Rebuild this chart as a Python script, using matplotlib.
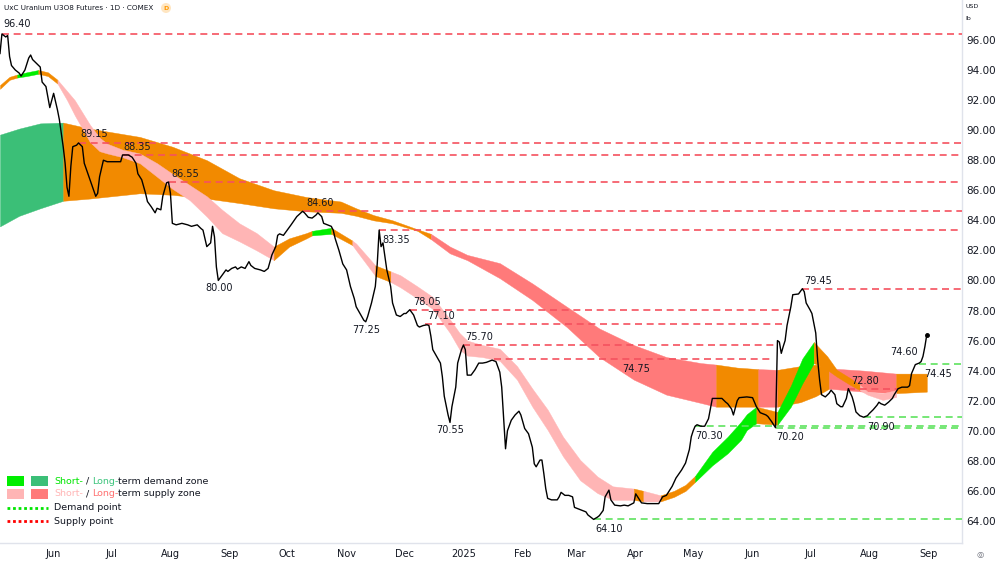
"""UxC Uranium U3O8 futures, daily, with demand / supply zones."""

import numpy as np
import matplotlib

matplotlib.use("Agg")
import matplotlib.pyplot as plt
import matplotlib.dates as mdates
from matplotlib.patches import Rectangle, Circle
from matplotlib.ticker import FuncFormatter

W, H = 1000, 562
T0 = np.datetime64("2024-05-04")   # day 0 of every *_day list below
X_END = 502.4                      # right edge of the plot, in days

# close path (day offset, price)
price_day = [
  0, 1, 3, 4, 5, 6, 8, 10, 11, 13, 15, 16, 17, 19, 21, 22, 24, 26, 28, 29,
  30, 31, 32, 33, 34, 35, 36, 37, 38, 40, 41, 43, 44, 47, 50, 51, 52, 54, 56, 57,
  63, 64, 67, 69, 71, 72, 74, 76, 77, 79, 81, 82, 84, 85, 87, 88, 89, 90, 92, 95,
  98, 100, 103, 105, 106, 108, 110, 111, 112, 113, 114, 116, 118, 119, 121, 123, 124, 126, 128, 130,
  131, 133, 136, 138, 140, 142, 144, 145, 146, 148, 150, 152, 155, 158, 159, 161, 163, 165, 166, 168,
  169, 171, 173, 174, 175, 177, 179, 181, 183, 185, 186, 188, 190, 191, 192, 194, 196, 197, 198, 199,
  200, 202, 204, 205, 207, 209, 211, 212, 214, 216, 218, 219, 221, 223, 224, 225, 226, 228, 230, 231,
  232, 234, 235, 236, 238, 239, 241, 242, 243, 244, 246, 248, 250, 252, 254, 257, 259, 260, 261, 262,
  263, 264, 265, 267, 269, 271, 272, 274, 276, 278, 279, 280, 282, 283, 284, 285, 286, 288, 291, 292,
  293, 295, 297, 299, 300, 302, 304, 306, 307, 310, 312, 313, 315, 316, 318, 319, 321, 324, 326, 328,
  331, 332, 333, 335, 338, 341, 344, 346, 348, 351, 353, 356, 358, 360, 361, 362, 363, 364, 366, 368,
  370, 372, 374, 377, 379, 380, 382, 383, 385, 386, 390, 393, 395, 397, 400, 401, 403, 405, 406, 407,
  408, 409, 410, 411, 413, 414, 417, 419, 420, 421, 423, 424, 426, 427, 428, 429, 431, 433, 434, 436,
  437, 439, 440, 442, 443, 445, 446, 447, 449, 451, 453, 454, 456, 458, 459, 460, 462, 464, 466, 467,
  469, 471, 474, 475, 476, 478, 480, 481, 482, 483, 484,
]
price_val = [
  95.1, 96.4, 96.2, 96.3, 94.9, 94.3, 94.0, 93.8, 93.6, 94.0, 94.8, 95.0, 94.7, 94.45, 94.2, 93.2, 92.9, 91.5, 92.45, 91.9,
  91.35, 90.7, 89.8, 88.9, 87.8, 86.2, 85.6, 87.6, 88.9, 89.0, 89.15, 88.9, 87.8, 86.7, 85.6, 85.8, 86.9, 88.0, 87.9, 87.9,
  87.9, 88.35, 88.35, 88.2, 87.8, 87.1, 86.7, 85.8, 85.25, 84.9, 84.5, 84.8, 84.7, 85.6, 86.5, 86.55, 85.8, 83.8, 83.7, 83.8,
  83.7, 83.6, 83.7, 83.45, 83.35, 82.25, 82.5, 83.6, 82.9, 80.9, 80.0, 80.35, 80.7, 80.6, 80.8, 80.9, 80.75, 80.9, 80.8, 81.25,
  81.0, 80.8, 80.7, 80.6, 80.8, 81.7, 82.25, 83.0, 83.1, 83.0, 83.35, 83.7, 84.25, 84.6, 84.5, 84.2, 84.15, 84.35, 84.5, 84.25,
  83.8, 83.7, 83.6, 83.35, 82.8, 82.0, 81.1, 80.7, 79.6, 78.8, 78.25, 77.8, 77.35, 77.25, 77.6, 78.5, 79.6, 81.1, 83.35, 82.25,
  82.5, 80.7, 79.6, 78.5, 77.7, 77.6, 77.8, 77.8, 78.05, 77.7, 77.0, 76.9, 77.0, 77.05, 77.0, 76.3, 75.4, 74.95, 74.5, 73.6,
  72.3, 71.05, 70.55, 71.6, 72.9, 74.5, 75.4, 75.7, 75.4, 73.7, 73.7, 74.05, 74.5, 74.5, 74.55, 74.7, 74.6, 74.25, 73.9, 72.9,
  70.9, 68.8, 70.0, 70.7, 71.05, 71.3, 71.05, 70.15, 69.8, 68.9, 67.8, 67.6, 68.05, 68.05, 67.15, 66.15, 65.5, 65.4, 65.4, 65.6,
  65.9, 65.7, 65.7, 65.6, 64.9, 64.8, 64.7, 64.6, 64.4, 64.1, 64.25, 64.35, 64.7, 65.6, 66.05, 65.4, 65.05, 65.0, 65.05, 65.0,
  65.2, 65.8, 65.6, 65.2, 65.15, 65.15, 65.15, 65.6, 65.7, 66.3, 66.85, 67.4, 67.85, 68.75, 69.6, 70.0, 70.3, 70.4, 70.3, 70.3,
  70.8, 72.15, 72.15, 72.15, 71.9, 71.8, 71.45, 71.05, 72.0, 72.2, 72.25, 72.2, 71.6, 71.2, 71.05, 70.95, 70.6, 70.2, 76.0, 75.9,
  75.15, 75.6, 76.0, 77.0, 78.25, 79.05, 79.1, 79.45, 79.25, 78.5, 78.05, 77.8, 76.5, 74.7, 73.4, 72.4, 72.25, 72.5, 72.7, 72.4,
  71.8, 71.6, 71.6, 72.15, 72.8, 72.25, 71.8, 71.25, 71.0, 70.9, 71.0, 71.15, 71.4, 71.7, 71.9, 71.8, 71.7, 71.9, 72.15, 72.4,
  72.8, 72.9, 72.9, 73.0, 73.8, 74.4, 74.5, 74.6, 74.95, 75.6, 76.4,
]

# long-term zone: edges and zone type of the stretch starting at each vertex
# G = demand, R = supply, O = neutral
long_day = [0, 10, 21, 33, 47, 73, 90, 108, 125, 143, 160, 178, 186, 195, 205, 218, 225, 235,
            244, 261, 278, 296, 313, 331, 348, 366, 374, 385, 396, 406, 418, 426, 433, 451, 468, 484]
long_top = [89.7, 90.1, 90.45, 90.5, 90.1, 89.55, 88.9, 88.0, 86.8, 86.0, 85.55, 85.25, 84.8, 84.35, 84.0, 83.4, 83.1, 82.25,
            81.7, 81.15, 79.8, 78.25, 76.8, 75.7, 74.9, 74.5, 74.4, 74.2, 74.1, 74.05, 74.3, 74.4, 74.15, 74.0, 73.8, 73.8]
long_bot = [83.6, 84.3, 84.8, 85.3, 85.45, 85.8, 85.7, 85.45, 85.15, 84.8, 84.6, 84.5, 84.3, 84.0, 83.8, 83.3, 82.75, 81.8,
            81.35, 80.15, 78.7, 76.9, 74.9, 73.4, 72.4, 71.85, 71.6, 71.6, 71.6, 71.6, 71.9, 72.3, 72.8, 72.6, 72.5, 72.6]
long_zone = "GGG" + "O" * 13 + "R" * 10 + "OO" + "R" + "OOO" + "RR" + "OO"

# short-term zone (g = demand, r = supply, o = neutral)
short_day = [0, 5, 9, 14, 20, 25, 30, 35, 39, 47, 52, 56, 64, 73, 82, 90, 99, 108, 116, 125,
             134, 143, 151, 160, 163, 173, 184, 186, 196, 204, 209, 218, 226, 235, 240, 244, 252, 261, 270, 278,
             286, 294, 303, 312, 320, 331, 336, 345, 352, 358, 363, 372, 380, 387, 390, 395, 406, 413, 419, 425,
             432, 437, 444, 449, 453, 461, 468]
short_top = [93.0, 93.55, 93.7, 93.85, 94.0, 93.85, 93.35, 92.6, 92.0, 90.35, 89.5, 89.1, 88.7, 88.45, 87.8, 87.1, 86.35, 85.6, 84.7, 83.8,
             83.15, 82.25, 82.8, 83.15, 83.3, 83.5, 82.65, 82.45, 81.0, 80.6, 80.35, 79.6, 78.9, 77.4, 76.5, 76.0, 75.7, 75.45, 74.3, 72.8,
             71.4, 69.6, 68.05, 66.95, 66.3, 66.15, 66.0, 65.7, 66.0, 66.4, 67.0, 68.6, 69.6, 70.6, 71.1, 71.6, 71.25, 73.0, 74.8, 75.9,
             74.95, 74.05, 73.5, 73.05, 72.6, 72.5, 72.7]
short_bot = [92.75, 93.35, 93.5, 93.6, 93.75, 93.6, 93.1, 92.0, 91.0, 89.2, 88.6, 88.45, 88.2, 87.8, 86.9, 86.1, 85.35, 84.25, 83.15, 82.6,
             82.0, 81.35, 82.25, 82.8, 83.0, 83.1, 82.35, 82.0, 80.3, 79.9, 79.55, 78.8, 78.1, 76.5, 75.4, 75.0, 74.9, 74.65, 73.4, 71.6,
             70.05, 68.3, 66.7, 65.85, 65.4, 65.4, 65.3, 65.3, 65.6, 66.0, 66.6, 67.7, 68.5, 69.4, 70.05, 70.5, 70.4, 71.6, 73.15, 74.5,
             74.05, 73.6, 73.05, 72.7, 72.4, 72.05, 72.25]
short_zone = ("oo" + "gg" + "oo" + "r" * 15 + "ooo" + "g" + "o" + "rr" + "o" + "r" * 16
              + "o" + "r" + "ooo" + "ggggg" + "o" + "ggg" + "oooo" + "rrrr")

# supply points: level, first day, last day (None = still open)
supply_level = [96.40, 89.15, 88.35, 86.55, 84.60, 83.35, 78.05, 77.10, 75.70, 74.75, 79.45, 72.80]
supply_from = [1, 41, 64, 88, 158, 198, 214, 222, 242, 258, 419, 443]
supply_to = [None, None, None, None, None, None, 413, 410, 406, 404, None, 469]

# demand points
demand_level = [74.45, 70.90, 70.30, 70.20, 64.10]
demand_from = [480, 451, 363, 405, 310]

# swing labels: text, day, offset in pixels
label_text = ["96.40", "89.15", "88.35", "86.55", "84.60", "83.35", "80.00", "77.25", "78.05", "77.10", "75.70",
              "70.55", "74.75", "64.10", "70.30", "70.20", "79.45", "72.80", "70.90", "74.60", "74.45"]
label_day = [1, 41, 65, 88, 158, 198, 114, 191, 214, 223, 242, 235, 257, 310, 363, 405, 419, 443, 451, 481, 480]
label_off = [(15, 10), (16, 9), (13, 8), (17, 8), (18, 8), (17, -10), (1, -8), (0, -8), (17, 8), (14, 8), (16, 8),
             (0, -8), (144, -10), (16, -10), (14, -10), (15, -9), (16, 8), (17, 8), (17, -10), (-17, 10), (19, -10)]

ZONE_COLORS = {
  "G": "#3bbf77", "R": "#ff7a7a", "O": "#f28a00",
  "g": "#00ee00", "r": "#ffb5b5", "o": "#f28a00",
}
SUPPLY_COLOR = "#f5525f"
DEMAND_COLOR = "#5fe35f"
INK = "#131722"


def to_dates(days):
  return T0 + np.asarray(days, dtype="timedelta64[D]")


def draw_zone(ax, days, top, bot, zones, z):
  x = to_dates(days)
  top = np.asarray(top)
  bot = np.asarray(bot)
  start = 0
  n = len(days)
  for i in range(1, n):
    if i == n - 1 or zones[i] != zones[start]:
      c = ZONE_COLORS[zones[start]]
      ax.fill_between(x[start:i + 1], top[start:i + 1], bot[start:i + 1],
                      color=c, lw=0.3, edgecolor=c, zorder=z)
      start = i


def multicolor_text(fig, ov, x, y, parts, size):
  renderer = fig.canvas.get_renderer()
  for s, c in parts:
    if s == " ":
      x += size * 0.32 * 100 / 72
      continue
    t = ov.text(x, y, s, color=c, fontsize=size, va="center", ha="left")
    x += t.get_window_extent(renderer=renderer).width


fig = plt.figure(figsize=(W / 100, H / 100), dpi=100)
ax = fig.add_axes([0, 19 / H, 962 / W, 543 / H])

draw_zone(ax, long_day, long_top, long_bot, long_zone, 1)
draw_zone(ax, short_day, short_top, short_bot, short_zone, 2)

x_end = T0 + np.timedelta64(int(X_END * 24), "h")
dash = (0, (4.2, 2.8))
for lvl, d0, d1 in zip(supply_level, supply_from, supply_to):
  x1 = x_end if d1 is None else to_dates([d1])[0]
  ax.plot([to_dates([d0])[0], x1], [lvl, lvl], color=SUPPLY_COLOR, lw=1.2, ls=dash, zorder=3)
for lvl, d0 in zip(demand_level, demand_from):
  ax.plot([to_dates([d0])[0], x_end], [lvl, lvl], color=DEMAND_COLOR, lw=1.2, ls=dash, zorder=3)

px = to_dates(price_day)
ax.plot(px, price_val, color="black", lw=1.0, zorder=4)
ax.plot(px[-1:], price_val[-1:], "o", color="black", ms=2.5, zorder=5)

for txt, d, off in zip(label_text, label_day, label_off):
  ax.annotate(txt, xy=(to_dates([d])[0], float(txt)), xytext=off, textcoords="offset pixels",
              ha="center", va="center", fontsize=7, color=INK, zorder=6)

ax.set_xlim(T0, x_end)
ax.set_ylim(62.53, 98.66)

ax.yaxis.tick_right()
ax.set_yticks(np.arange(64, 97, 2))
ax.yaxis.set_major_formatter(FuncFormatter(lambda v, _: f"{v:.2f}"))
ax.xaxis.set_major_locator(mdates.MonthLocator())


def month_label(v, _):
  d = mdates.num2date(v)
  return str(d.year) if d.month == 1 else d.strftime("%b")


ax.xaxis.set_major_formatter(FuncFormatter(month_label))
ax.tick_params(axis="y", length=0, pad=3, labelsize=7.5, labelcolor=INK)
ax.tick_params(axis="x", length=0, pad=4.5, labelsize=7, labelcolor=INK)
for side in ("top", "left"):
  ax.spines[side].set_visible(False)
for side in ("right", "bottom"):
  ax.spines[side].set_color("#e0e3eb")
  ax.spines[side].set_linewidth(1.0)

# overlay in pixel coordinates for header and legend
ov = fig.add_axes([0, 0, 1, 1])
ov.set_xlim(0, W)
ov.set_ylim(H, 0)
ov.axis("off")

ov.text(4, 8, "UxC Uranium U3O8 Futures · 1D · COMEX", fontsize=5.2, color=INK, va="center")
ov.add_patch(Circle((166, 8), 5, color="#ffe6c2", lw=0))
ov.text(166, 8.3, "D", fontsize=4.5, color="#ff9800", ha="center", va="center", weight="bold")
ov.text(965, 7, "USD", fontsize=4.5, color=INK, va="center")
ov.text(965, 19, "lb", fontsize=4.5, color=INK, va="center")
ov.text(980, 555, "◎", fontsize=6, color="#6a6d78", ha="center", va="center")

ov.add_patch(Rectangle((7, 476), 17, 10, color=ZONE_COLORS["g"], lw=0))
ov.add_patch(Rectangle((31, 476), 17, 10, color=ZONE_COLORS["G"], lw=0))
ov.add_patch(Rectangle((7, 489), 17, 10, color=ZONE_COLORS["r"], lw=0))
ov.add_patch(Rectangle((31, 489), 17, 10, color=ZONE_COLORS["R"], lw=0))
ov.plot([7, 48], [508, 508], color="#00e600", lw=2, ls=(0, (1, 1)))
ov.plot([7, 48], [521, 521], color="#ff0000", lw=2, ls=(0, (1, 1)))

multicolor_text(fig, ov, 54, 481, [("Short-", "#00e600"), (" ", None), ("/", INK), (" ", None),
                                   ("Long-", "#3cc47c"), ("term demand zone", INK)], 6.8)
multicolor_text(fig, ov, 54, 494, [("Short-", "#ffb5b5"), (" ", None), ("/", INK), (" ", None),
                                   ("Long-", "#ff7070"), ("term supply zone", INK)], 6.8)
ov.text(54, 508, "Demand point", fontsize=6.8, color=INK, va="center")
ov.text(54, 521, "Supply point", fontsize=6.8, color=INK, va="center")

fig.savefig("out.png", dpi=100)
plt.close(fig)
